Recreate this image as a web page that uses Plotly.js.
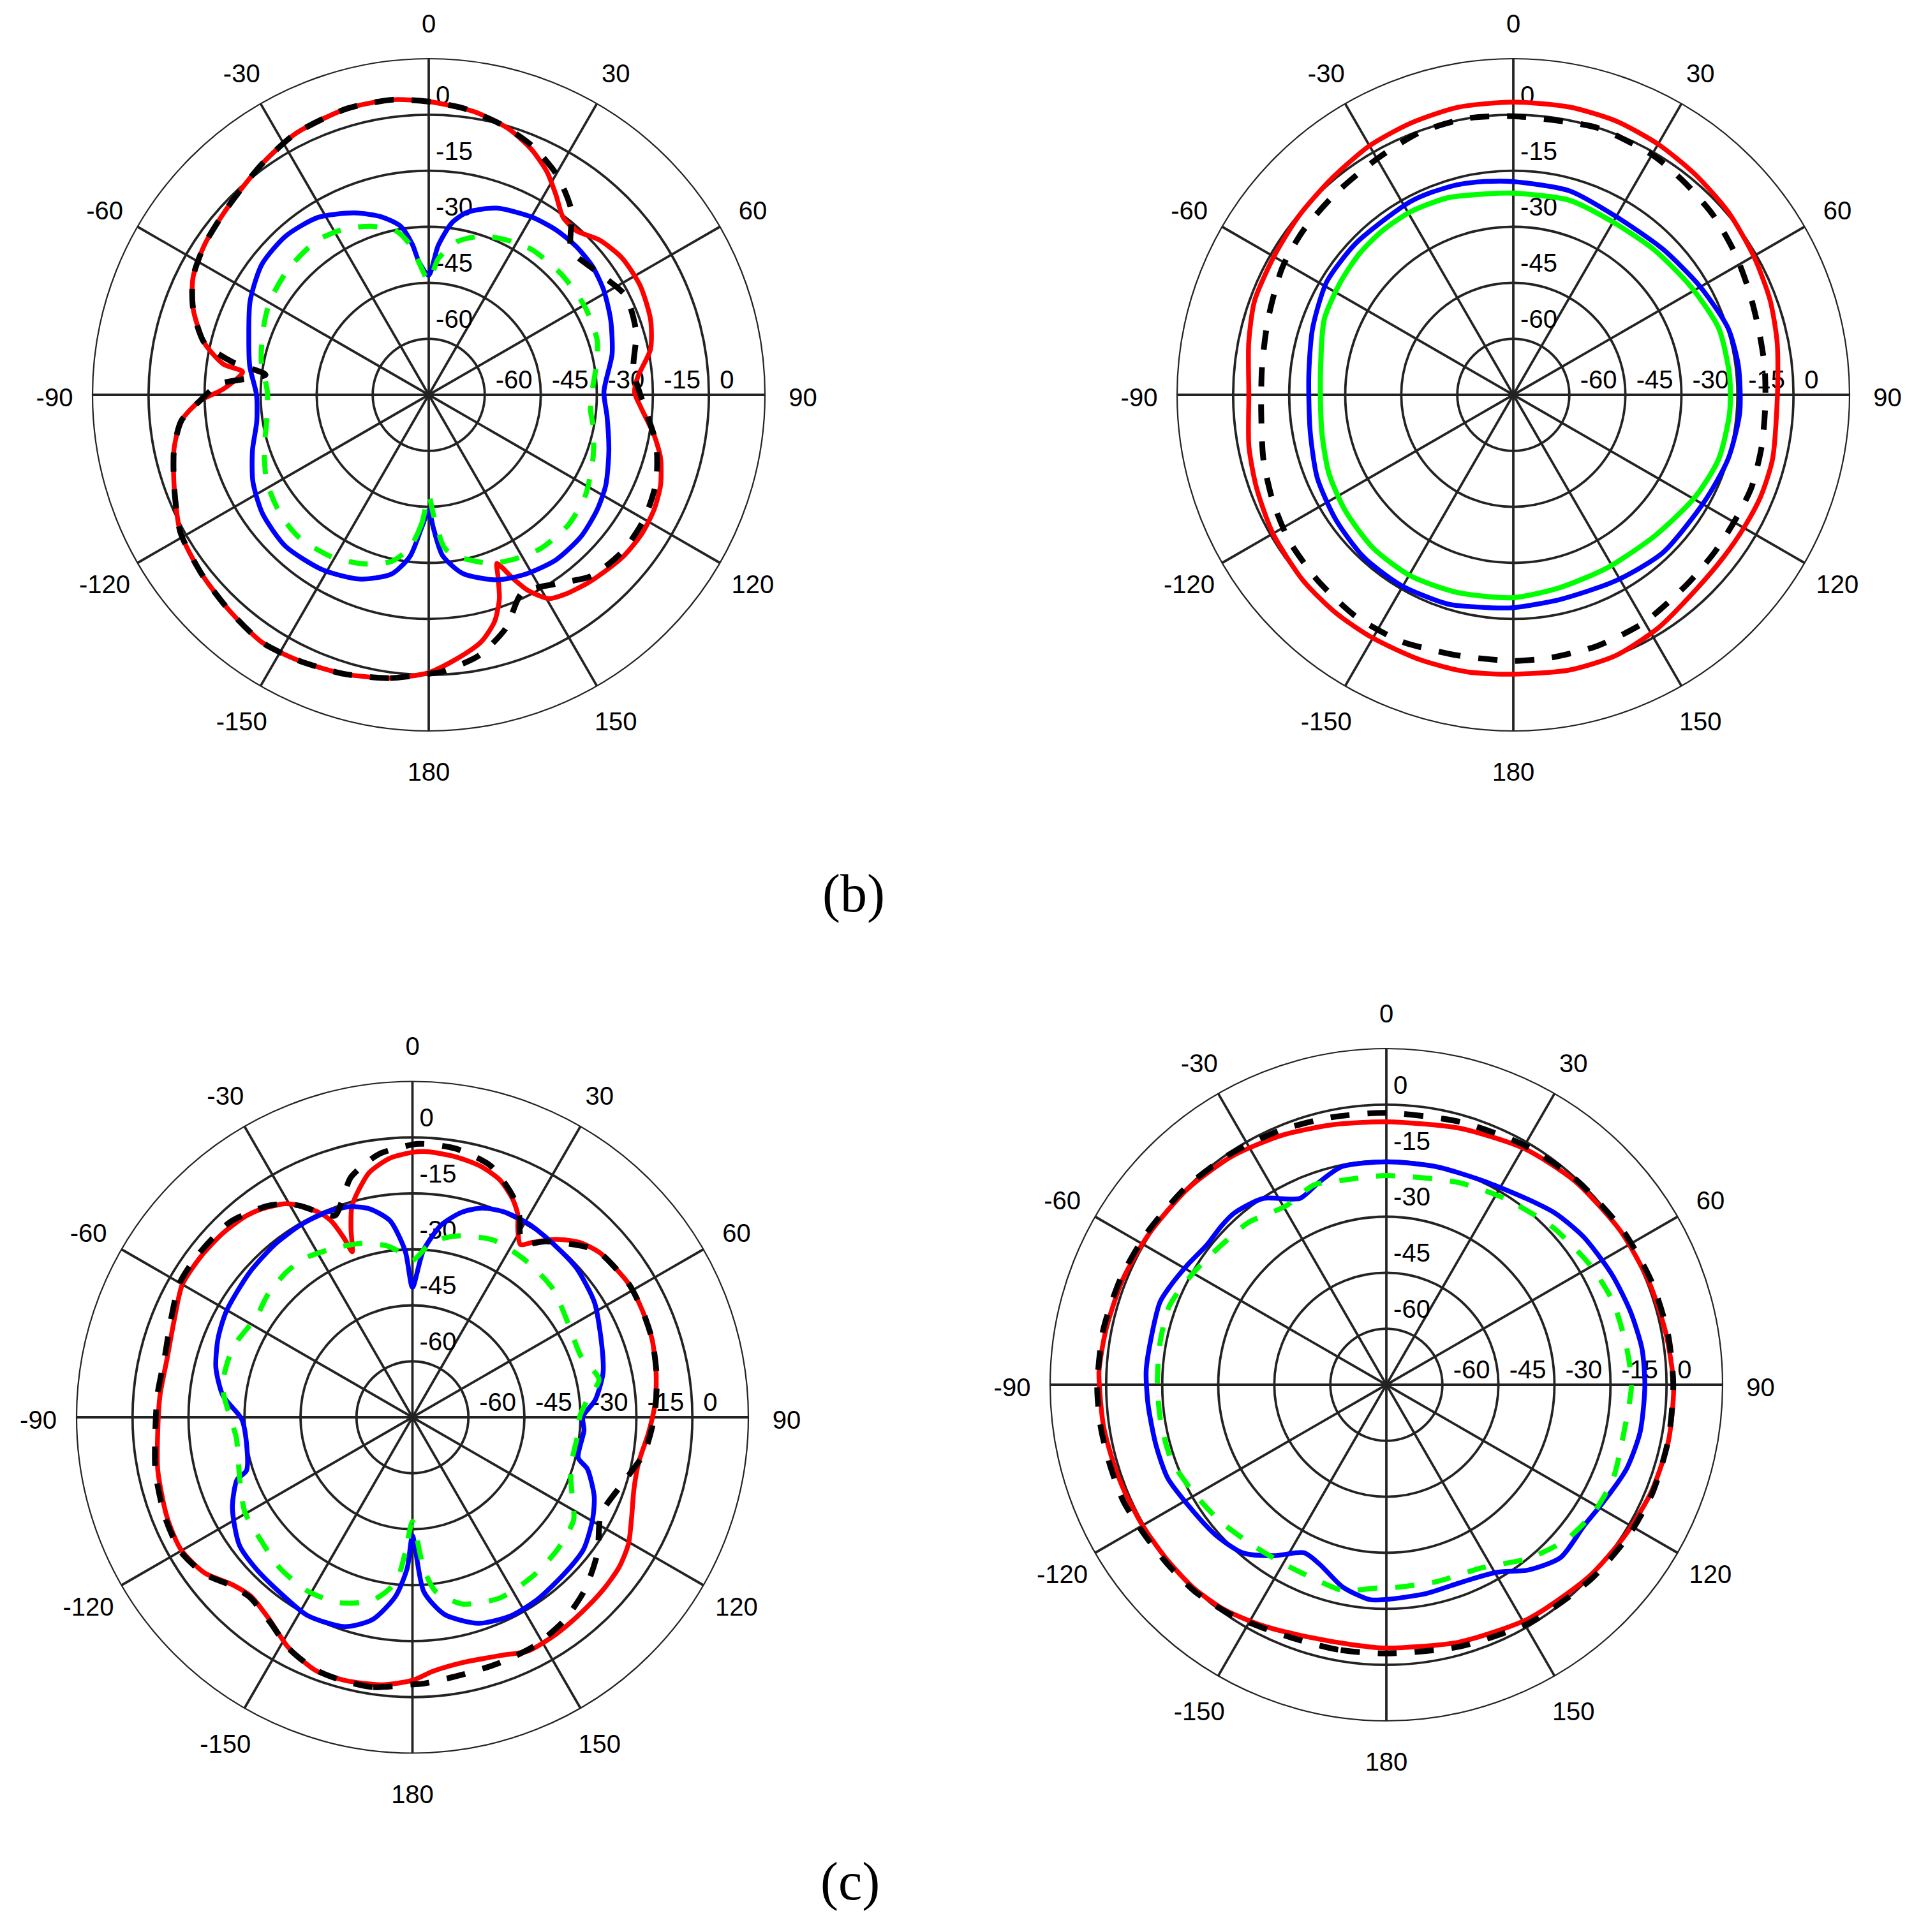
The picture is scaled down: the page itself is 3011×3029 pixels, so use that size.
<!DOCTYPE html>
<html>
<head>
<meta charset="utf-8">
<script src="https://cdn.plot.ly/plotly-3.0.1.min.js"></script>
<style>
  html, body { margin: 0; padding: 0; background: #ffffff; }
  #chart { width: 3011px; height: 3029px; }
</style>
</head>
<body>
<div id="chart"></div>
<script>
// ---------- tick labels ----------
const ANG_VALS = [0, 30, 60, 90, 120, 150, 180, 210, 240, 270, 300, 330];
const ANG_TEXT = ['0', '30', '60', '90', '120', '150', '180', '-150', '-120', '-90', '-60', '-30'];
const RAD_VALS = [-60, -45, -30, -15, 0];
const RAD_TEXT = ['-60', '-45', '-30', '-15', '0'];
const PANEL_LABELS = ['(b)', '(c)'];

// ---------- panel 1 (top left) ----------
const P1_RED_T = [-180,-172,-163,-154,-146,-137,-128,-119,-110,-102,-96,-91.5,-88.4,-83,-81.5,-77,-70,-63.5,-56,-47,-36,-27,-16,-7,0,9,16.6,22.6,27.9,32.4,37.1,42,47.8,54.7,62.7,71.3,78.4,85,89.3,93.6,100,105.2,111.3,117,123,129.4,136,139.8,145.6,149.4,153,155.4,157.1,158,159.1,160.9,163.8,168,173.6,180];
const P1_RED_R = [-0.6,1.6,3.1,4.2,4.9,3.6,2.4,1.0,-2.5,-5.3,-8.4,-13.7,-20,-24.8,-19.4,-13.4,-7.9,-4.5,-2.75,-1.4,1.2,3.5,4.7,4.6,3.5,1.8,-0.6,-3.7,-7.4,-11.5,-15.4,-15.9,-13.3,-11.6,-11.3,-12.3,-14.4,-18.8,-19.9,-18,-13.8,-10.7,-8.4,-7.3,-6.9,-7.25,-8.4,-9.05,-10.3,-11.6,-16.1,-21,-25,-26.3,-23.1,-17.2,-11.8,-7.4,-4.1,-0.6];
const P1_BLACK_T = [-180,-172,-163,-154,-146,-137,-128,-119,-110,-102,-96,-91.5,-87,-83,-80.5,-77,-70,-63.5,-56,-47,-36,-27,-16,-7,0,6.8,14.8,22.5,30.3,37.75,44.6,53.8,63.3,73.2,83,93.4,102.2,111.2,120.3,129.1,138.1,146,154.8,161.7,169.1,177.2,180];
const P1_BLACK_R = [-0.3,1.6,3.1,4.2,4.9,3.6,2.4,1.0,-2.5,-5.3,-8.4,-13.7,-19,-31,-21.7,-13.4,-7.9,-4.5,-2.75,-1.4,1.2,3.5,4.7,4.6,3.5,2.3,0.0,-2.8,-6.9,-12.6,-20.6,-19.2,-16,-17,-19.8,-17.1,-12.7,-9.75,-8.4,-8.3,-9.8,-14,-16.35,-9.2,-3.9,-0.8,-0.3];
const P1_BLUE_T = [-180,-177,-173.4,-168.3,-159.4,-148.7,-136.6,-125.6,-116.3,-107.3,-98.9,-90,-81,-72.5,-62.3,-52,-42,-32,-22.2,-14.7,-9.4,-6.2,-4.1,0,3.6,7.7,12,20,30,38,45,52,59,67.5,77.4,89,97,107.3,117,124.4,133,142.4,151.4,159.8,169.2,175.1,178,180];
const P1_BLUE_R = [-44,-39.5,-31.5,-26,-22.3,-20.2,-19.2,-20.3,-22.5,-25.6,-28.4,-28.9,-26.5,-24.5,-21,-18.3,-17.8,-19,-22.4,-25.8,-29.3,-34.5,-39.5,-43,-35,-28.5,-25,-21.8,-20,-19.2,-19,-19.3,-20.4,-22.3,-24.7,-28.1,-26.9,-24.5,-21.8,-20.4,-19.3,-19.2,-20.4,-22.2,-26.3,-31.8,-39.3,-44];
const P1_GREEN_T = [-180,-176.9,-173,-167.4,-158.9,-148.9,-137.7,-128.9,-118.2,-108.4,-99.4,-89,-78.7,-68.2,-59.3,-47.8,-35.9,-26.8,-18.3,-11.2,-7.1,-4.1,0,4,10.5,19,28.5,35.6,48,60.5,72,80.2,89,95.4,100.8,110.5,122.5,133,144,153,160,167,171.8,174.4,177.8,180];
const P1_GREEN_R = [-48,-40.5,-33.8,-29.3,-26.5,-24.4,-23.4,-24,-25.8,-28.6,-31,-31.8,-29.3,-27.3,-25.6,-24.5,-24,-25.2,-27.5,-30.3,-34.5,-39.7,-44.5,-38.5,-33.3,-30,-28.3,-27.3,-27,-27,-27.6,-29.5,-31.3,-31.5,-30.2,-28,-25.2,-23.9,-24.1,-25.5,-27,-29.8,-31.8,-34.2,-43,-48];

// ---------- panel 2 (top right) ----------
const P2_RED_T = [-180,-170.4,-160.6,-150,-140.9,-131.5,-120,-109.8,-101,-90,-78.8,-70,-60,-50.3,-40.2,-30,-20.7,-11,0,11,20.5,30,39.6,49.6,60,69.8,78.8,90,104,112.4,119.8,127.7,137,148.2,158.5,168.5,180];
const P2_RED_R = [-0.2,0.2,0.2,0.2,0.3,0.1,-0.7,-1.9,-2.9,-4.2,-2.8,-1.3,-1.0,-0.25,0.6,2.0,2.75,3.4,3.4,3.5,3.3,2.5,1.5,0.55,-0.7,-1.75,-3,-4.3,-3.5,-3.4,-3.75,-3.9,-3.5,-1.5,0,0.2,-0.2];
const P2_BLACK_T = [-180,-167.9,-155.6,-144.6,-133.5,-123.1,-113.9,-104.5,-93,-83.4,-72.9,-61.2,-52,-41.3,-29.8,-19.6,-9.6,0,17.5,30.4,39.3,48.4,57.55,66.3,74.9,83.4,91.9,101.5,111.2,119.4,128.2,137.8,150.2,161.5,171.9,180];
const P2_BLACK_R = [-3.75,-3.65,-2.5,-2.2,-2.8,-3.4,-4.6,-5.9,-7.4,-7.3,-6.3,-4.4,-3.6,-3.1,-2,-0.4,0.05,-0.4,-0.05,-0.8,-2,-3.1,-4.6,-6.05,-7,-7.3,-7.5,-7.1,-6.6,-6.8,-6.6,-6.15,-4.7,-4.1,-3.9,-3.75];
const P2_BLUE_T = [-180,-174.4,-162.6,-149.5,-137.4,-125.2,-113,-100.2,-84.5,-71.7,-58.8,-46.6,-37,-28,-22.6,-14.9,-7.5,0,15.4,29.9,45.7,59.9,72.8,82.7,94.5,106.7,119.1,136.6,151.1,167.1,180];
const P2_BLUE_R = [-18,-17.7,-16.3,-15.8,-15.9,-16.9,-18,-19.75,-20,-18.4,-16.6,-16.5,-16.8,-16.4,-16.5,-16.8,-17.4,-17.9,-18.35,-19.9,-19.1,-17.2,-14.8,-14.25,-14.2,-15,-16.4,-16.8,-18.15,-18.8,-18];
const P2_GREEN_T = [-180,-164.2,-150.4,-137.55,-124.6,-113,-100.8,-84.2,-68.2,-56.8,-47.5,-38.5,-29.3,-18.35,-7.9,0,16,29.4,43.9,58.6,72.1,84.8,94.7,107.4,119.2,134.8,151.5,166.4,180];
const P2_GREEN_R = [-20.7,-20,-19.25,-19.4,-20.35,-21.35,-22.8,-23.1,-20.5,-19.75,-19.1,-18.8,-18.8,-19.4,-20.7,-21,-20.8,-21.6,-20.9,-19.35,-17.2,-16.9,-16.9,-17.4,-19.15,-21.5,-22.3,-21.9,-20.7];

// ---------- panel 3 (bottom left) ----------
const P3_RED_T = [-180,-173.4,-165.5,-159.3,-151.7,-144.8,-138,-132.9,-126.8,-119.8,-112.1,-101.8,-93.6,-85.1,-76.5,-68,-60,-52.8,-45.7,-39.6,-35.6,-30.8,-27.9,-24.6,-22.5,-20.9,-20,-18.1,-16.2,-14,-10,-5,0,3.1,9,14.9,20.2,24.7,27.4,29.3,32,34.6,38.9,43.6,48.7,58.4,65.4,72.1,79.4,86.2,93.7,101.2,108,114.9,120.4,125.9,132.1,139.2,146.4,153.6,159.6,168,175.4,180];
const P3_RED_R = [-4.5,-2.8,-2.2,-2.3,-4.9,-8.6,-10.4,-9.1,-5.4,-3.55,-4,-5.3,-6.6,-7.1,-7.4,-6.1,-3.8,-3.8,-4.2,-5,-6.2,-8.4,-10.9,-14.6,-18,-23.6,-27.8,-22,-16.6,-13.3,-8.4,-5.3,-4,-3.7,-4.2,-5.2,-7.2,-10.7,-13.7,-17.3,-20.4,-18,-13.7,-10.25,-8.2,-6.9,-7.1,-7.5,-8.6,-9.75,-11.6,-13.2,-12.6,-10.3,-7.9,-6.6,-6.1,-5.8,-5.3,-5.1,-6.9,-7.9,-6.7,-4.5];
const P3_BLACK_T = [-180,-171.6,-165,-159,-152,-145,-138,-133,-127,-120,-112,-102,-94,-85,-76.5,-68,-60,-52.8,-43,-34.7,-30.8,-27.9,-24.6,-21,-18,-14.5,-10,-6.8,1.3,9.3,17.3,24.4,28,30.7,33,37.2,45.4,48.7,58.4,65.4,72.1,80.9,89.9,98.8,107.9,117.3,126.3,134.9,143.5,152,160.7,169,177.6,180];
const P3_BLACK_R = [-3.4,-1.9,-2,-2.5,-4.7,-8.2,-10,-8.8,-5.2,-3.2,-3.5,-4.6,-5.9,-6.4,-6.7,-5.2,-3,-2.9,-3.4,-6.2,-8.4,-10.9,-14.5,-17.1,-14,-8.7,-5.5,-3.7,-1.7,-2.1,-4.45,-9.9,-14,-18.45,-19.5,-15.8,-9.9,-8.2,-6.9,-7.1,-7.5,-8.7,-10.2,-12.2,-16.15,-18.2,-13.5,-9.7,-7,-5.55,-5.15,-4.75,-3.55,-3.4];
const P3_BLUE_T = [-180,-178,-174.6,-168.8,-162,-152,-142.6,-134,-126.4,-116.7,-109.6,-107.8,-98.6,-90.6,-83.5,-75.9,-68,-60.3,-48.4,-38.5,-30.2,-22.8,-16.7,-11.6,-6.5,-2.5,0,3.7,8.5,13.5,18.4,24.3,31.6,40.1,47.7,57.8,69.9,77,84.6,89.8,94.4,103.7,106.5,113.5,119.6,127.6,135.3,145.4,153.6,162.2,170.8,176.3,180];
const P3_BLUE_R = [-43.25,-34.5,-26.8,-19.7,-16,-14.9,-16.15,-16.65,-17.35,-21,-25.1,-28.3,-30,-29.25,-23.9,-20.7,-18.8,-17.6,-16.6,-15.8,-15.4,-15.4,-16.1,-18,-22,-30.4,-40.2,-30.3,-22.9,-18.5,-15.9,-14.7,-14.55,-15.2,-15.6,-17.35,-20.9,-22.6,-25.8,-29.35,-28.9,-29.3,-26.1,-21.9,-19.5,-17.1,-16.6,-15.8,-15.6,-17,-21.5,-28.2,-43.25];
const P3_GREEN_T = [-180,-176.9,-174.2,-167.7,-158.6,-148.9,-138.6,-129,-119.5,-109.9,-96.7,-90.6,-80.8,-72,-66,-57.3,-49.9,-41.1,-34.3,-24,-15.9,-8.6,-4.2,0,4.9,9.4,14.4,24.6,36,47.4,59,70,78.5,84.5,89.8,95.5,102,108.7,116.8,122.5,132.5,143,154,165,172.5,175.8,180];
const P3_GREEN_R = [-47,-38.5,-30.5,-24.8,-21.6,-20.6,-21.2,-22.7,-23.4,-25.8,-27.5,-26.3,-23.4,-23.3,-23.9,-25.3,-24.2,-23.5,-23.5,-25.2,-26.5,-28.5,-30.6,-33,-29.1,-26.5,-24.8,-22.8,-23.2,-24,-26.3,-27,-24,-28,-30.2,-30.4,-30.8,-30.3,-27,-23.8,-22.4,-21.6,-21.2,-23.2,-28,-34.5,-47];

// ---------- panel 4 (bottom right) ----------
const P4_RED_T = [-180,-172.9,-162.9,-152.9,-144.3,-136.25,-128,-120,-112.2,-105.8,-98.7,-91.8,-87.3,-79,-68.4,-57.5,-45.5,-33.9,-22.7,-11.6,0,15.7,30.1,42.8,57,68.9,79.8,90.2,101.4,112,122,133.4,148.7,164.3,180];
const P4_RED_R = [-4.5,-4.8,-4.3,-2.5,-0.8,0,0.1,0.35,0.7,1.0,1.5,1.7,2.0,1.5,1.0,0.3,-0.3,-1.2,-2.6,-3.9,-4.6,-3.6,-1.8,-0.7,0,0.5,1.1,1.9,2.0,1.5,0.6,-0.3,-1.7,-3.4,-4.5];
const P4_BLACK_T = [-180,-169.7,-161.5,-153.1,-145.3,-137.2,-129.4,-121.5,-113.8,-106,-98.4,-90.5,-79,-68,-57.5,-45.5,-34,-22.7,-11.6,0,15.7,30,43,57,69,80,90,101,112,122,133.4,148.7,164.3,180];
const P4_BLACK_R = [-3.05,-2.9,-2.8,-2,-0.6,0.45,0.75,1.2,2.0,2.05,2.3,2.4,2.2,1.6,0.9,0.3,-0.4,-1.2,-1.9,-2.2,-1.9,-1.0,-0.2,0.6,1.2,1.6,1.8,1.9,1.9,1.4,0.6,-0.6,-2.2,-3.05];
const P4_BLUE_T = [-180,-175.6,-167.8,-159.7,-153.9,-146.8,-139.5,-131.3,-121.3,-113.1,-104.9,-94.9,-86.75,-79,-69.85,-65.9,-58.7,-52,-46,-41.45,-33.5,-24.9,-18.5,-11.5,0,12.6,25.1,37.5,44.8,53.2,63.9,73.25,81.9,90.2,100.6,109.5,118.5,125.4,134.8,142.5,149.7,158.6,169.2,180];
const P4_BLUE_R = [-17.5,-17.3,-19.6,-23.7,-24.9,-20.3,-15.8,-14.1,-12.9,-11.35,-11.25,-11,-10.6,-10.8,-10.5,-11.3,-12.9,-14.1,-13.7,-13.6,-15.2,-20,-17.9,-15.4,-15.3,-15.1,-14.6,-12.5,-10.5,-9,-7.8,-6.8,-5.9,-5.8,-5.9,-6.9,-9,-10,-9.3,-12.5,-16.8,-18.4,-18.1,-17.5];
const P4_GREEN_T = [-180,-177.3,-168,-159,-149.1,-139.5,-128.9,-118.9,-109.2,-99.2,-90,-79.7,-70.1,-60.2,-50,-40.3,-29.3,-19.9,-12.2,0,19.7,32.6,46.4,59.3,69.85,81.4,90.2,103.6,112.6,121.4,130.8,140.65,152.4,166,180];
const P4_GREEN_R = [-20.5,-20.5,-18.7,-19.6,-19.7,-19,-17.35,-15.8,-14,-13.8,-13.7,-13.4,-13.2,-15.2,-17.1,-18,-20.1,-18.1,-19,-19,-17.5,-15.9,-13.7,-11.8,-10.4,-9.9,-9.4,-10.1,-9.3,-9.8,-11.45,-14.9,-19.7,-20.6,-20.5];

// ---------- styling ----------
const RED = '#ff0000', BLUE = '#0000ff', GREEN = '#00ff00', BLACK = '#000000';
const GRID = '#232323';
const SANS = 'Liberation Sans, Arial, Helvetica, sans-serif';
const DASH = '30px,28px';
const FONT_PX = 40;

function curve(subplot, T, R, color, width, dash) {
  return {
    type: 'scatterpolar', subplot: subplot, theta: T, r: R, mode: 'lines',
    line: { color: color, width: width, dash: dash || 'solid', shape: 'spline', smoothing: 0.7 },
    hoverinfo: 'skip', showlegend: false
  };
}

function radialLabels(subplot) {
  const up = {
    type: 'scatterpolar', subplot: subplot, mode: 'text',
    r: RAD_VALS.map(v => v + 1.2), theta: RAD_VALS.map(() => 0),
    text: RAD_TEXT.map(t => '\u00a0' + t), textposition: 'top right',
    textfont: { family: SANS, size: FONT_PX, color: '#000' },
    hoverinfo: 'skip', showlegend: false, cliponaxis: false
  };
  const right = {
    type: 'scatterpolar', subplot: subplot, mode: 'text',
    r: RAD_VALS.map(v => v + 2.9), theta: RAD_VALS.map(() => 90),
    text: RAD_TEXT, textposition: 'top right',
    textfont: { family: SANS, size: FONT_PX, color: '#000' },
    hoverinfo: 'skip', showlegend: false, cliponaxis: false
  };
  return [up, right];
}

// angle labels live on a transparent overlay polar whose radial unit is one pixel
const LABEL_RADIUS = 586.5, LABEL_DROP = 8, OVER_R = 600;
function angleLabels(subplot) {
  const r = [], th = [];
  ANG_VALS.forEach(a => {
    const rad = a * Math.PI / 180;
    const x = LABEL_RADIUS * Math.sin(rad);
    const y = LABEL_RADIUS * Math.cos(rad) - LABEL_DROP;
    r.push(Math.hypot(x, y));
    th.push(Math.atan2(x, y) * 180 / Math.PI);
  });
  return {
    type: 'scatterpolar', subplot: subplot, mode: 'text', r: r, theta: th,
    text: ANG_TEXT, textposition: 'middle center',
    textfont: { family: SANS, size: FONT_PX, color: '#000' },
    hoverinfo: 'skip', showlegend: false, cliponaxis: false
  };
}

function polarAxes(dx, dy) {
  return {
    domain: { x: dx, y: dy },
    bgcolor: 'rgba(0,0,0,0)',
    radialaxis: {
      range: [-75, 15], tickmode: 'array', tickvals: RAD_VALS,
      showticklabels: false, ticks: '', showline: false,
      gridcolor: GRID, gridwidth: 3.8
    },
    angularaxis: {
      direction: 'clockwise', rotation: 90,
      tickmode: 'array', tickvals: ANG_VALS,
      showticklabels: false, ticks: '',
      showline: true, linecolor: GRID, linewidth: 2.2,
      gridcolor: GRID, gridwidth: 3.8
    }
  };
}
function overlayAxes(dx, dy) {
  return {
    domain: { x: dx, y: dy },
    bgcolor: 'rgba(0,0,0,0)',
    radialaxis: { range: [0, OVER_R], visible: false },
    angularaxis: { direction: 'clockwise', rotation: 90, visible: false }
  };
}

const W = 3011, H = 3029;
function dom(cx, cy, R) {
  return [[(cx - R) / W, (cx + R) / W], [(H - cy - R) / H, (H - cy + R) / H]];
}
const CENTERS = [[672, 619, 527], [2372, 619, 527], [646.5, 2222, 526.5], [2173, 2171, 527]];
const D = CENTERS.map(c => dom(c[0], c[1], c[2]));
const DO = CENTERS.map(c => dom(c[0], c[1], OVER_R));

const data = [];
function panel(sp, rT, rR, bT, bR, kT, kR, gT, gR, greenDash) {
  radialLabels(sp).forEach(t => data.push(t));
  data.push(curve(sp, rT, rR, RED, 7.5));
  data.push(curve(sp, bT, bR, BLUE, 7.5));
  data.push(curve(sp, kT, kR, BLACK, 9, DASH));
  data.push(curve(sp, gT, gR, GREEN, 8, greenDash));
}
panel('polar',  P1_RED_T, P1_RED_R, P1_BLUE_T, P1_BLUE_R, P1_BLACK_T, P1_BLACK_R, P1_GREEN_T, P1_GREEN_R, DASH);
panel('polar2', P2_RED_T, P2_RED_R, P2_BLUE_T, P2_BLUE_R, P2_BLACK_T, P2_BLACK_R, P2_GREEN_T, P2_GREEN_R, 'solid');
panel('polar3', P3_RED_T, P3_RED_R, P3_BLUE_T, P3_BLUE_R, P3_BLACK_T, P3_BLACK_R, P3_GREEN_T, P3_GREEN_R, DASH);
panel('polar4', P4_RED_T, P4_RED_R, P4_BLUE_T, P4_BLUE_R, P4_BLACK_T, P4_BLACK_R, P4_GREEN_T, P4_GREEN_R, DASH);
['polar5', 'polar6', 'polar7', 'polar8'].forEach(sp => data.push(angleLabels(sp)));

const layout = {
  width: W, height: H,
  margin: { l: 0, r: 0, t: 0, b: 0, pad: 0 },
  paper_bgcolor: '#ffffff', plot_bgcolor: '#ffffff',
  showlegend: false,
  polar: polarAxes(D[0][0], D[0][1]),
  polar2: polarAxes(D[1][0], D[1][1]),
  polar3: polarAxes(D[2][0], D[2][1]),
  polar4: polarAxes(D[3][0], D[3][1]),
  polar5: overlayAxes(DO[0][0], DO[0][1]),
  polar6: overlayAxes(DO[1][0], DO[1][1]),
  polar7: overlayAxes(DO[2][0], DO[2][1]),
  polar8: overlayAxes(DO[3][0], DO[3][1]),
  annotations: [
    { text: PANEL_LABELS[0], xref: 'paper', yref: 'paper', x: 1338 / W, y: 1 - 1401 / H,
      xanchor: 'center', yanchor: 'middle', showarrow: false,
      font: { family: 'Liberation Serif, Times New Roman, serif', size: 84, color: '#000' } },
    { text: PANEL_LABELS[1], xref: 'paper', yref: 'paper', x: 1332 / W, y: 1 - 2950 / H,
      xanchor: 'center', yanchor: 'middle', showarrow: false,
      font: { family: 'Liberation Serif, Times New Roman, serif', size: 84, color: '#000' } }
  ]
};

Plotly.newPlot('chart', data, layout, { displayModeBar: false, staticPlot: true });
</script>
</body>
</html>
